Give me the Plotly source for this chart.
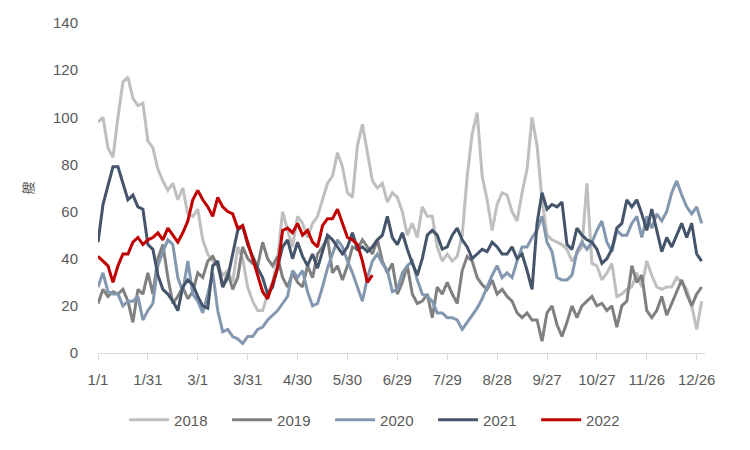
import plotly.graph_objects as go
import pandas as pd

# Sampling: one reading every 3 days, starting 1/1 (base year 2020 for the axis)
STEP_DAYS = 3

tick_labels = ["1/1", "1/31", "3/1", "3/31", "4/30", "5/30", "6/29",
               "7/29", "8/28", "9/27", "10/27", "11/26", "12/26"]

y2018 = [98, 100, 87, 83, 100, 115, 117, 108, 105, 106, 90, 87, 78, 73, 69, 72, 65, 70, 59, 58,
         61, 48, 42, 39, 37, 33, 35, 30, 45, 40, 28, 22, 18, 18, 25, 30, 40, 60, 52, 45,
         58, 55, 49, 55, 58, 65, 72, 75, 85, 79, 68, 66, 88, 97, 85, 73, 70, 72, 64, 68,
         66, 60, 50, 55, 49, 62, 58, 58, 45, 39, 42, 39, 41, 50, 75, 93, 102, 75, 65, 52,
         63, 68, 67, 60, 56, 68, 78, 100, 88, 65, 50, 48, 47, 46, 44, 39, 42, 45, 72, 38,
         37, 31, 34, 38, 24, 25, 27, 28, 34, 28, 39, 33, 28, 27, 28, 28, 32, 30, 27, 20,
         10, 22]

y2019 = [21, 27, 24, 26, 25, 27, 22, 13, 27, 25, 34, 25, 40, 46, 32, 21, 24, 28, 23, 26,
         34, 32, 39, 41, 37, 28, 34, 27, 32, 45, 40, 38, 37, 47, 40, 37, 41, 32, 28, 34,
         30, 28, 37, 32, 42, 45, 49, 34, 37, 31, 37, 45, 44, 48, 45, 42, 48, 39, 34, 38,
         25, 30, 37, 25, 21, 22, 25, 15, 28, 25, 30, 25, 21, 35, 41, 39, 32, 29, 27, 31,
         25, 27, 24, 22, 17, 15, 17, 14, 14, 5, 17, 20, 12, 7, 13, 20, 15, 20, 22, 24,
         20, 21, 18, 20, 11, 20, 22, 37, 30, 33, 18, 15, 18, 24, 16, 21, 26, 31, 25, 20,
         25, 28]

y2020 = [28, 34, 26, 25, 25, 20, 22, 22, 24, 14, 18, 21, 37, 43, 48, 46, 32, 26, 39, 25,
         22, 17, 25, 34, 18, 9, 10, 7, 6, 4, 7, 7, 10, 11, 14, 16, 18, 21, 24, 35,
         32, 35, 26, 20, 21, 28, 36, 42, 48, 45, 39, 34, 28, 22, 32, 39, 42, 38, 35, 26,
         27, 34, 37, 39, 31, 25, 24, 22, 17, 17, 15, 15, 14, 10, 13, 16, 19, 23, 28, 33,
         37, 32, 34, 32, 39, 45, 45, 49, 52, 58, 47, 43, 32, 31, 31, 33, 43, 47, 44, 47,
         52, 56, 47, 43, 52, 50, 50, 55, 58, 49, 58, 53, 59, 56, 60, 68, 73, 67, 62, 59,
         62, 55]

y2021 = [47, 63, 71, 79, 79, 72, 65, 67, 62, 61, 46, 44, 33, 27, 25, 22, 18, 28, 31, 29,
         24, 20, 19, 37, 39, 28, 32, 42, 52, 54, 46, 41, 36, 32, 25, 28, 37, 45, 48, 40,
         47, 41, 37, 42, 36, 43, 50, 48, 45, 42, 45, 51, 44, 45, 43, 45, 48, 50, 58, 49,
         46, 51, 44, 38, 33, 40, 50, 52, 50, 44, 45, 50, 53, 48, 45, 40, 42, 44, 43, 47,
         45, 42, 42, 45, 40, 42, 35, 27, 55, 68, 61, 63, 62, 64, 46, 44, 53, 50, 48, 47,
         44, 38, 40, 44, 53, 55, 65, 62, 65, 59, 52, 61, 52, 43, 49, 45, 50, 55, 49, 55,
         42, 39]

y2022 = [41, 39, 37, 30, 37, 42, 42, 47, 49, 46, 48, 49, 51, 48, 53, 50, 47, 51, 56, 65,
         69, 65, 62, 58, 66, 62, 60, 59, 53, 54, 47, 40, 32, 26, 23, 30, 36, 52, 53, 51,
         55, 50, 52, 47, 45, 54, 57, 57, 61, 55, 49, 48, 46, 39, 30, 33]

series = [
    ("2018", y2018, "#bfbfbf"),
    ("2019", y2019, "#808080"),
    ("2020", y2020, "#8497b0"),
    ("2021", y2021, "#44546a"),
    ("2022", y2022, "#c00000"),
]

base = pd.Timestamp("2020-01-01")
tick_days = [(pd.Timestamp(f"2020/{t}") - base).days for t in tick_labels]

FONT = "Liberation Sans"
TXT = "#595959"

fig = go.Figure()
for name, vals, color in series:
    days = [i * STEP_DAYS for i in range(len(vals))]
    fig.add_trace(go.Scatter(x=days, y=vals, name=name, mode="lines",
                             line=dict(color=color, width=3)))

fig.update_layout(
    width=750, height=450,
    margin=dict(l=98, r=45, t=23, b=97),
    paper_bgcolor="white", plot_bgcolor="white",
    font=dict(family=FONT, size=15, color=TXT),
    showlegend=True,
    legend=dict(orientation="h", x=0.043, xanchor="left", y=-0.203, yanchor="middle",
                font=dict(size=15, color=TXT), traceorder="normal",
                entrywidth=48, itemwidth=40),
)
fig.update_xaxes(range=[0, 365], tickmode="array", tickvals=tick_days, ticktext=tick_labels,
                 showline=True, linecolor="#d9d9d9", linewidth=1,
                 ticks="outside", ticklen=6, tickcolor="#d9d9d9",
                 showgrid=False, zeroline=False, ticklabelstandoff=7)
fig.update_yaxes(range=[0, 140], dtick=20, showgrid=False, zeroline=False, showline=False,
                 ticks="", ticklabelstandoff=19,
                 title=dict(text="艘", font=dict(size=13, color=TXT,
                            family="Noto Sans CJK SC"), standoff=16))

fig.write_html("out.html", config={"displayModeBar": False},
               post_script="document.body.style.margin='0';")
